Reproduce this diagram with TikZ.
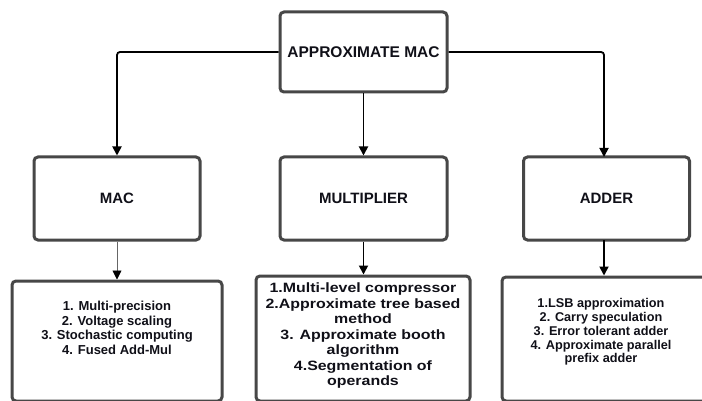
\documentclass[tikz,border=0pt]{standalone}
\usepackage{fontspec}
\setmainfont{Liberation Sans}
\usetikzlibrary{arrows.meta}
\definecolor{boxgray}{HTML}{474747}
\definecolor{txt}{HTML}{101018}
\begin{document}
\begin{tikzpicture}[x=1pt,y=-1pt,
  box/.style={draw=boxgray, line width=3pt, rounded corners=4pt, fill=white, inner sep=0pt, minimum width=#1},
  box/.default=166pt,
  conn/.style={line width=1.8pt, black, rounded corners=3pt, -{Triangle[length=9pt,width=9pt]}},
  thinconn/.style={line width=0.9pt, gray!80!black, -{Triangle[length=9pt,width=9pt,color=black,fill=black]}},
  ttl/.style={font=\bfseries\fontsize{15.5}{18}\selectfont, text=txt},
  lbl/.style={font=\bfseries\fontsize{15}{18}\selectfont, text=txt},
  lst/.style={text=txt, align=center},
]
\useasboundingbox (0,0) rectangle (702,401);
\fill[white] (0,0) rectangle (702,401);
\begin{scope}
\clip (0,0) rectangle (702,401);
% top
\node[box, minimum width=167pt, minimum height=80pt] (top) at (363.5,52) {};
\node[ttl] (toptxt) at (top.center) {APPROXIMATE MAC};
% middle
\node[box, minimum height=83pt] (mac) at (117,198.5) {};
\node[lbl] (mactxt) at (mac.center) {MAC};
\node[box, minimum width=167pt, minimum height=83pt] (mul) at (363.5,198.5) {};
\node[lbl] (multxt) at (mul.center) {MULTIPLIER};
\node[box, minimum height=83pt] (add) at (606.5,198.5) {};
\node[lbl] (addtxt) at (add.center) {ADDER};
% bottom
\node[box, minimum width=210pt, minimum height=120pt] (bl) at (117,341) {};
\node[lst, font=\bfseries\fontsize{13}{14.5}\selectfont] (bltxt) at (117,328) {1. Multi-precision\\2. Voltage scaling\\3. Stochastic computing\\4. Fused Add-Mul};
\node[box, minimum width=214pt, minimum height=125pt] (bm) at (363,338.5) {};
\node[lst, font=\bfseries\fontsize{13.5}{15.5}\selectfont, xscale=1.18] (bmtxt) at (363,336) {1.Multi-level compressor\\2.Approximate tree based\\method\\3. Approximate booth\\algorithm\\4.Segmentation of\\operands};
\node[box, minimum width=218pt, minimum height=124pt] (br) at (611,339) {};
\node[lst, font=\bfseries\fontsize{12.7}{13.8}\selectfont] (brtxt) at (601,332) {1.LSB approximation\\2. Carry speculation\\3. Error tolerant adder\\4. Approximate parallel\\prefix adder};
\end{scope}
% connectors
\draw[conn] (top.west) -| (mac.north);
\draw[conn] (top.east) -| (604,157);
\draw[conn] (top.south) -- (mul.north);
\draw[thinconn] (mac.south) -- (bl.north);
\draw[conn] (mul.south) -- (mul.south |- bm.north);
\coordinate (addbot) at (604,240);
\draw[conn] (addbot) -- (addbot |- br.north);
\end{tikzpicture}
\end{document}
